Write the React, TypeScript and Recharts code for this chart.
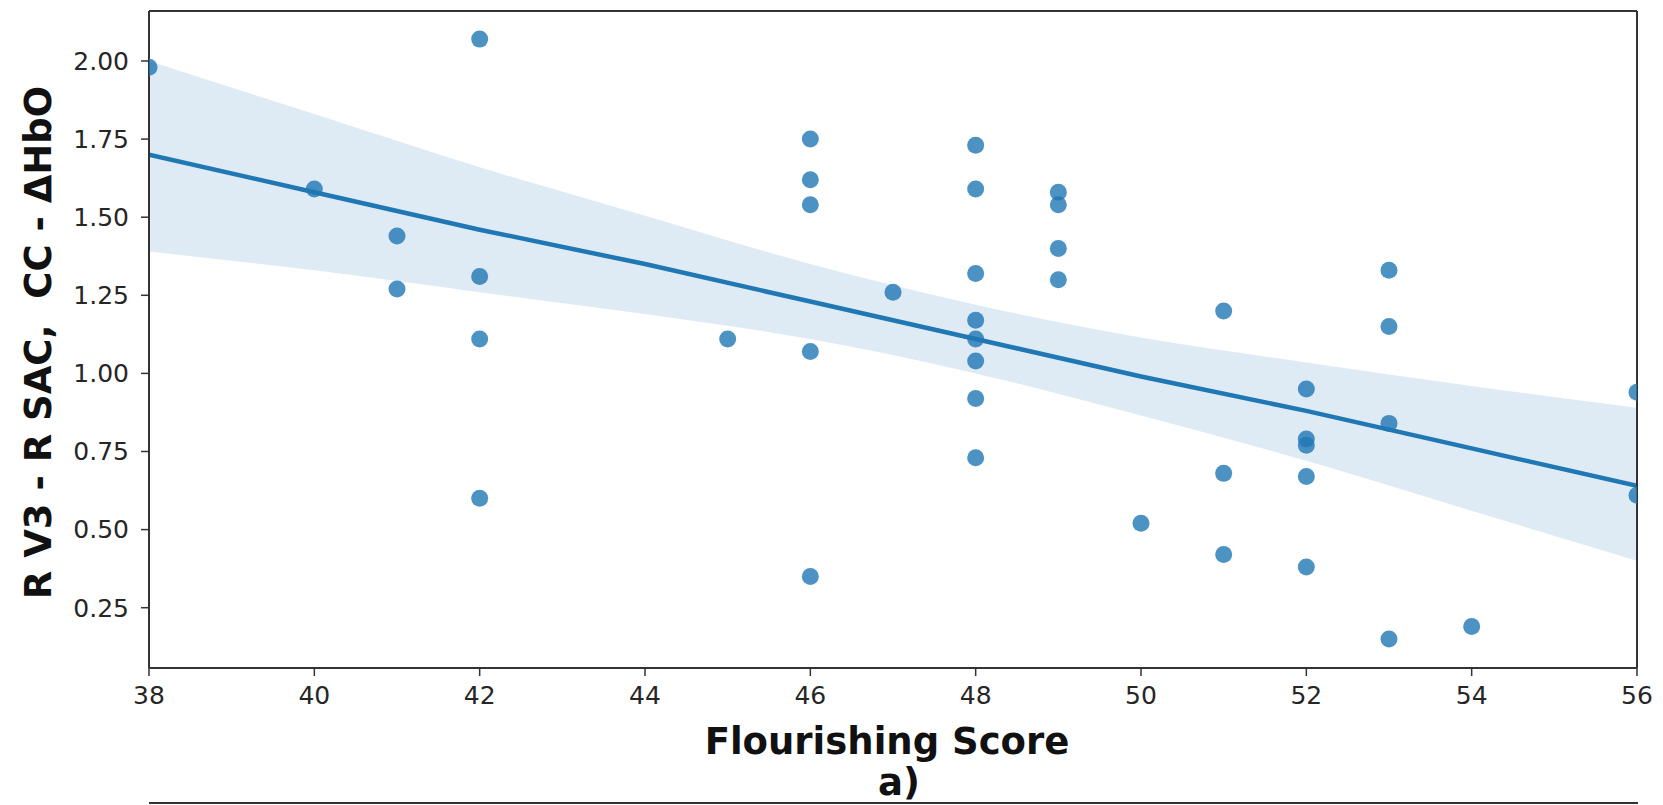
import React from "react"
import { ComposedChart, XAxis, YAxis, Scatter, Area, Line, ReferenceLine } from "recharts"

// axis ticks
const xTicks = [38, 40, 42, 44, 46, 48, 50, 52, 54, 56]
const yTicks = [0.25, 0.5, 0.75, 1.0, 1.25, 1.5, 1.75, 2.0]

// observed points (Flourishing Score vs ΔHbO difference)
const scoreX = [
  38, 40, 41, 41, 42, 42, 42, 42, 45, 46, 46, 46, 46, 46, 47,
  48, 48, 48, 48, 48, 48, 48, 48, 49, 49, 49, 49, 50, 51, 51, 51,
  52, 52, 52, 52, 52, 53, 53, 53, 53, 54, 56, 56,
]
const deltaY = [
  1.98, 1.59, 1.44, 1.27, 2.07, 1.31, 1.11, 0.6, 1.11, 1.75, 1.62, 1.54, 1.07, 0.35, 1.26,
  1.73, 1.59, 1.32, 1.17, 1.11, 1.04, 0.92, 0.73, 1.58, 1.54, 1.4, 1.3, 0.52, 1.2, 0.68, 0.42,
  0.95, 0.79, 0.77, 0.67, 0.38, 1.33, 1.15, 0.84, 0.15, 0.19, 0.94, 0.61,
]

// regression line and its confidence band
const fitX = [38, 40, 42, 44, 46, 48, 50, 52, 54, 56]
const fitY = [1.7, 1.58, 1.46, 1.35, 1.23, 1.11, 0.99, 0.88, 0.76, 0.64]
const ciLow = [1.39, 1.33, 1.26, 1.19, 1.11, 1.0, 0.865, 0.72, 0.56, 0.4]
const ciHigh = [2.0, 1.83, 1.66, 1.505, 1.35, 1.22, 1.115, 1.035, 0.96, 0.89]

const X_MIN = 38
const X_MAX = 56
const Y_MIN = 0.057
const Y_MAX = 2.16

const points = scoreX.map((x, i) => ({ x, y: deltaY[i] }))
const bandRows = fitX.map((x, i) => ({ x, fit: fitY[i], band: [ciLow[i], ciHigh[i]] }))

const BLUE = "#1f77b4"
const INK = "#262626"
const FRAME = "#333333"

const tickStyle = { fontFamily: "DejaVu Sans", fontSize: 25, fill: INK }
const titleStyle = { fontFamily: "DejaVu Sans", fontSize: 37, fontWeight: 700, fill: "#111" }

const renderYLabel = (props: any) => {
  const { viewBox } = props
  const cx = 38
  const cy = viewBox.y + viewBox.height / 2 + 3
  return (
    <text
      x={cx}
      y={cy}
      transform={`rotate(-90 ${cx} ${cy})`}
      textAnchor="middle"
      dominantBaseline="central"
      style={{ ...titleStyle, whiteSpace: "pre" }}
    >
      R V3 - R SAC,  CC - ΔHbO
    </text>
  )
}

const renderXLabel = (props: any) => {
  const { viewBox } = props
  const cx = viewBox.x + viewBox.width / 2
  return (
    <g>
      <text x={cx - 6} y={viewBox.y + 86} textAnchor="middle" style={titleStyle}>
        Flourishing Score
      </text>
      <text x={cx + 6} y={viewBox.y + 127} textAnchor="middle" style={titleStyle}>
        a)
      </text>
    </g>
  )
}

const Dot = (props: any) => <circle cx={props.cx} cy={props.cy} r={8.5} fill={BLUE} fillOpacity={0.8} />

export default function App() {
  return (
    <div style={{ position: "absolute", left: 0, top: 0, width: 1663, height: 805, background: "#fff" }}>
      <ComposedChart width={1663} height={805} data={bandRows} margin={{ top: 11, right: 26, left: 49, bottom: 0 }}>
        <XAxis
          dataKey="x"
          type="number"
          domain={[X_MIN, X_MAX]}
          ticks={xTicks}
          allowDataOverflow
          height={137}
          tick={tickStyle}
          tickSize={8}
          tickMargin={10}
          axisLine={{ stroke: FRAME, strokeWidth: 2 }}
          tickLine={{ stroke: FRAME, strokeWidth: 1.5 }}
          label={renderXLabel}
        />
        <YAxis
          type="number"
          domain={[Y_MIN, Y_MAX]}
          ticks={yTicks}
          allowDataOverflow
          width={100}
          tick={tickStyle}
          tickSize={8}
          tickMargin={12}
          tickFormatter={(v: number) => v.toFixed(2)}
          axisLine={{ stroke: FRAME, strokeWidth: 2 }}
          tickLine={{ stroke: FRAME, strokeWidth: 1.5 }}
          label={renderYLabel}
        />
        <Scatter data={points} dataKey="y" shape={Dot} isAnimationActive={false} />
        <Area
          type="monotone"
          dataKey="band"
          stroke="none"
          fill={BLUE}
          fillOpacity={0.15}
          isAnimationActive={false}
          activeDot={false}
        />
        <Line
          type="linear"
          dataKey="fit"
          stroke={BLUE}
          strokeWidth={4.5}
          dot={false}
          activeDot={false}
          isAnimationActive={false}
        />
        <ReferenceLine y={Y_MAX} stroke={FRAME} strokeWidth={2} />
        <ReferenceLine x={X_MAX} stroke={FRAME} strokeWidth={2} />
      </ComposedChart>
      <div style={{ position: "absolute", left: 149, top: 802, width: 1489, height: 2, background: FRAME }} />
    </div>
  )
}
